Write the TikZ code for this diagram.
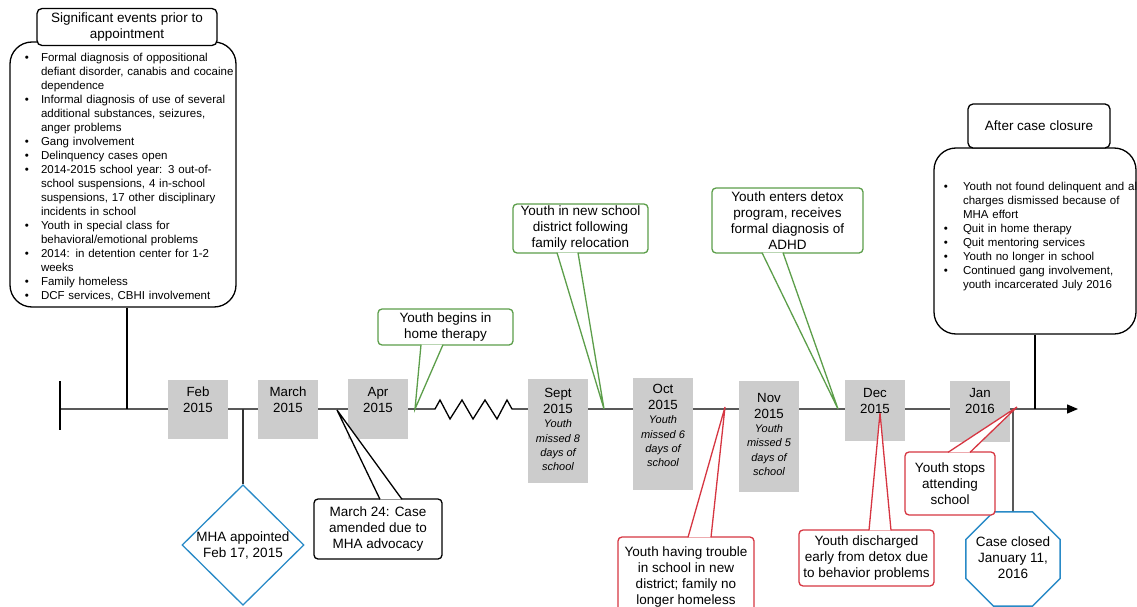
\documentclass[tikz,border=0pt]{standalone}
\usepackage{fontspec}
\setmainfont{Liberation Sans}
\usepackage{enumitem}
\usetikzlibrary{arrows.meta, shapes.geometric, calc}

\definecolor{callgreen}{RGB}{92,158,74}
\definecolor{callred}{RGB}{214,54,66}
\definecolor{shapeblue}{RGB}{41,138,199}
\definecolor{boxgray}{RGB}{204,204,204}

% month label: height, top padding, text
\newcommand{\monthtext}[3]{\parbox[t][#1][t]{60pt}{\centering\vspace*{#2}#3}}
\newcommand{\missedtext}[1]{{\fontsize{11}{14.3}\selectfont\itshape #1\par}}

\begin{document}
\begin{tikzpicture}[x=1pt, y=-1pt,
    axis/.style={line width=1.3pt},
    monthbox/.style={fill=boxgray, inner sep=0pt, anchor=north,
      font=\fontsize{13.3}{16}\selectfont},
    callbox/.style={draw=#1, fill=white, line width=1.3pt, rounded corners=4pt,
      inner sep=0pt, align=center, font=\fontsize{13.5}{16}\selectfont},
    pointer/.style={draw=#1, fill=white, line width=1.3pt},
    headbox/.style={draw, fill=white, line width=1.3pt, rounded corners=5pt,
      inner sep=0pt, align=center, font=\fontsize{13.5}{16}\selectfont},
    listbox/.style={draw, fill=white, line width=1.3pt, rounded corners=22pt,
      inner sep=0pt, align=left, font=\fontsize{11.5}{14}\selectfont},
    endshape/.style={draw=shapeblue, fill=white, line width=1.3pt, inner sep=0pt,
      align=center, font=\fontsize{13.5}{16}\selectfont}]

  \useasboundingbox (0,0) rectangle (1137,607);

  % timeline
  \coordinate (tStart) at (60,409);
  \coordinate (tEnd) at (1078,409);
  \coordinate (tPre) at (127,409);
  \coordinate (tMha) at (243,409);
  \coordinate (tAmend) at (337,410);
  \coordinate (tHome) at (415,409);
  \coordinate (tDistrict) at (604,409);
  \coordinate (tTrouble) at (725,407);
  \coordinate (tDetox) at (838,409);
  \coordinate (tDischarge) at (880,413);
  \coordinate (tClosed) at (1013,409);
  \coordinate (tStops) at (1017,407);
  \coordinate (tPost) at (1035,409);

  \draw[axis, -{Triangle[length=11pt,width=9pt]}] (tStart) -- (435,409) -- (440,400)
    -- (450,419) -- (462,400) -- (473,419) -- (485,400) -- (497,419) -- (507,400)
    -- (512,409) -- (tEnd);
  \draw[axis] (60,381) -- (60,430);

  % before and after
  \node[listbox, text width=226pt, minimum height=265pt] (pre) at (123,174.5) {%
    \begin{itemize}[leftmargin=31pt, labelsep=12pt, nosep]
      \item Formal diagnosis of oppositional\newline defiant disorder, canabis and cocaine\newline dependence
      \item Informal diagnosis of use of several\newline additional substances, seizures,\newline anger problems
      \item Gang involvement
      \item Delinquency cases open
      \item 2014-2015 school year: 3 out-of-\newline school suspensions, 4 in-school\newline suspensions, 17 other disciplinary\newline incidents in school
      \item Youth in special class for\newline behavioral/emotional problems
      \item 2014: in detention center for 1-2\newline weeks
      \item Family homeless
      \item DCF services, CBHI involvement
    \end{itemize}};
  \node[headbox, minimum width=180pt, minimum height=37pt] (preHead) at (127,27)
    {Significant events prior to\\appointment};

  \node[listbox, text width=202pt, minimum height=186pt] (post) at (1035,241) {%
    \begin{itemize}[leftmargin=29pt, labelsep=15pt, nosep]
      \item \leavevmode\rlap{Youth not found delinquent and all}\newline charges dismissed because of\newline MHA effort
      \item Quit in home therapy
      \item Quit mentoring services
      \item Youth no longer in school
      \item Continued gang involvement,\newline youth incarcerated July 2016
    \end{itemize}\par\vspace*{3pt}\null};
  \node[headbox, minimum width=142pt, minimum height=44pt] (postHead) at (1039,126)
    {After case closure};

  \draw[axis] (tPre |- pre.south) -- (tPre);
  \draw[axis] (post.south) -- (tPost);

  % months
  \node[monthbox] (feb) at (198,380) {\monthtext{59pt}{7pt}{Feb\\2015}};
  \node[monthbox] (mar) at (288,380) {\monthtext{59pt}{7pt}{March\\2015}};
  \node[monthbox] (apr) at (378,379) {\monthtext{60pt}{8pt}{Apr\\2015}};
  \node[monthbox] (sep) at (558,379) {\monthtext{104pt}{9pt}{Sept\\2015\par
    \missedtext{Youth\\missed 8\\days of\\school}}};
  \node[monthbox] (oct) at (663,378) {\monthtext{112pt}{6pt}{Oct\\2015\par
    \missedtext{Youth\\missed 6\\days of\\school}}};
  \node[monthbox] (nov) at (769,381) {\monthtext{111pt}{12pt}{Nov\\2015\par
    \missedtext{Youth\\missed 5\\days of\\school}}};
  \node[monthbox] (dec) at (875,380) {\monthtext{61pt}{8pt}{Dec\\2015}};
  \node[monthbox] (jan) at (980,381) {\monthtext{61pt}{7pt}{Jan\\2016}};

  % appointment and closure
  \node[endshape, diamond, minimum width=122pt, minimum height=120pt] (mha) at (243,545)
    {MHA appointed\\Feb 17, 2015};
  \draw[line width=2pt, black!80] (tMha) -- (mha.north);
  \node[endshape, regular polygon, regular polygon sides=8, minimum size=102pt] (closed)
    at (1013,559) {\makebox[40pt]{\begin{tabular}{@{}c@{}}Case closed\\January 11,\\2016\end{tabular}}};
  \draw[axis] (tClosed) -- (closed.north);

  % callouts above
  \node[callbox=callgreen, minimum width=135pt, minimum height=36pt] (home) at (445.5,327)
    {Youth begins in\\home therapy};
  \draw[pointer=callgreen] ($(home.south)+(-24.5,-1)$) -- (tHome) -- ($(home.south)+(-2.5,-1)$);
  \node[callbox=callgreen, minimum width=135pt, minimum height=49pt] (district) at (580.5,228.5)
    {Youth in new school\\district following\\family relocation};
  \draw[pointer=callgreen] ($(district.south)+(-23.5,-1)$) -- (tDistrict) -- ($(district.south)+(-2.5,-1)$);
  \node[callbox=callgreen, minimum width=151pt, minimum height=65pt] (detox) at (787.5,220.5)
    {Youth enters detox\\program, receives\\formal diagnosis of\\ADHD};
  \draw[pointer=callgreen] ($(detox.south)+(-25.5,-1)$) -- (tDetox) -- ($(detox.south)+(-4.5,-1)$);

  % callouts below
  \node[callbox=black, minimum width=128pt, minimum height=60pt] (amended) at (378,529)
    {March 24: Case\\amended due to\\MHA advocacy};
  \draw[pointer=black] ($(amended.north)+(2,1)$) -- (tAmend) -- ($(amended.north)+(24,1)$);
  \node[callbox=callred, minimum width=136pt, minimum height=80pt] (trouble) at (686,577)
    {Youth having trouble\\in school in new\\district; family no\\longer homeless};
  \draw[pointer=callred] ($(trouble.north)+(2,1)$) -- (tTrouble) -- ($(trouble.north)+(25,1)$);
  \node[callbox=callred, minimum width=135pt, minimum height=56pt] (discharged) at (866.5,558)
    {Youth discharged\\early from detox due\\to behavior problems};
  \draw[pointer=callred] ($(discharged.north)+(2.5,1)$) -- (tDischarge) -- ($(discharged.north)+(24.5,1)$);
  \node[callbox=callred, minimum width=90pt, minimum height=63pt] (stops) at (950,483.5)
    {Youth stops\\attending\\school};
  \draw[pointer=callred] ($(stops.north)+(-2,1)$) -- (tStops) -- ($(stops.north)+(20,1)$);
\end{tikzpicture}
\end{document}
